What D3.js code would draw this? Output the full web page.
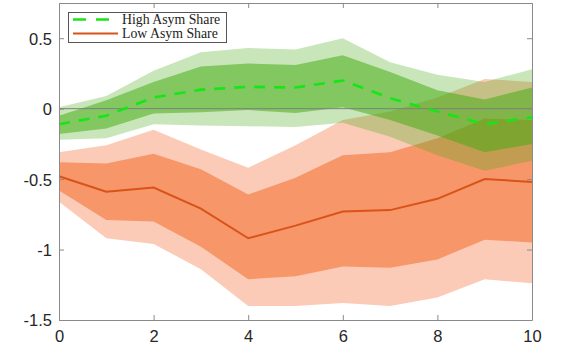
<html>
  <head>
    <title>irf</title>
    <script src="https://d3js.org/d3.v7.min.js"></script>
    <style>
      body { margin: 0; background: #fff; }
      text { font-family: "Liberation Sans", Arial, sans-serif; }
    </style>
  </head>

  <body>
    <div id='wrapper'>
      <script>
        // horizon and band values
        var horizon = [0, 1, 2, 3, 4, 5, 6, 7, 8, 9, 10];

        var highMean = [-0.11, -0.05, 0.08, 0.135, 0.155, 0.15, 0.2, 0.075, -0.02, -0.11, -0.06];
        var highUp90 = [0.01, 0.09, 0.27, 0.4, 0.43, 0.42, 0.5, 0.33, 0.24, 0.19, 0.28];
        var highUp68 = [-0.05, 0.06, 0.19, 0.3, 0.32, 0.31, 0.38, 0.26, 0.13, 0.065, 0.15];
        var highLo68 = [-0.18, -0.14, -0.035, -0.025, -0.01, -0.03, 0.01, -0.08, -0.19, -0.31, -0.25];
        var highLo90 = [-0.22, -0.21, -0.11, -0.12, -0.125, -0.13, -0.1, -0.2, -0.33, -0.44, -0.37];

        var lowMean = [-0.48, -0.59, -0.56, -0.71, -0.92, -0.83, -0.73, -0.72, -0.64, -0.5, -0.52];
        var lowUp90 = [-0.31, -0.26, -0.15, -0.29, -0.42, -0.26, -0.08, -0.02, 0.08, 0.21, 0.19];
        var lowUp68 = [-0.38, -0.39, -0.32, -0.43, -0.61, -0.49, -0.33, -0.31, -0.21, -0.07, -0.08];
        var lowLo68 = [-0.58, -0.79, -0.8, -0.98, -1.21, -1.19, -1.12, -1.13, -1.07, -0.93, -0.95];
        var lowLo90 = [-0.66, -0.92, -0.96, -1.14, -1.4, -1.4, -1.38, -1.4, -1.34, -1.21, -1.24];

        var xTicks = [0, 2, 4, 6, 8, 10];
        var yTicks = [-1.5, -1, -0.5, 0, 0.5];
        var legendNames = ["High Asym Share", "Low Asym Share"];

        // plot box
        var boxLeft = 59, boxRight = 532, boxTop = 3, boxBottom = 320;

        var svg = d3.select("#wrapper").append("svg")
                    .attr("width", 580)
                    .attr("height", 347);

        var xScale = d3.scaleLinear().domain([0, 10]).range([boxLeft, boxRight]);
        var yScale = d3.scaleLinear().domain([-1.5, 0.75]).range([boxBottom, boxTop]);

        function band(lo, hi) {
          return d3.area()
                   .x(function(d, i) { return xScale(horizon[i]); })
                   .y0(function(d, i) { return yScale(lo[i]); })
                   .y1(function(d, i) { return yScale(hi[i]); })(horizon);
        }
        function line(v) {
          return d3.line()
                   .x(function(d, i) { return xScale(horizon[i]); })
                   .y(function(d, i) { return yScale(v[i]); })(horizon);
        }

        // orange bands solid, green bands translucent on top
        var bands = svg.append("g");
        bands.append("path").attr("d", band(lowLo90, lowUp90)).attr("fill", "rgb(251,203,183)");
        bands.append("path").attr("d", band(lowLo68, lowUp68)).attr("fill", "rgb(247,150,105)");
        bands.append("path").attr("d", band(highLo90, highUp90))
             .attr("fill", "rgb(72,172,22)").attr("fill-opacity", 0.3);
        bands.append("path").attr("d", band(highLo68, highUp68))
             .attr("fill", "rgb(72,172,22)").attr("fill-opacity", 0.54);

        // zero line
        svg.append("line")
           .attr("x1", boxLeft).attr("x2", boxRight)
           .attr("y1", yScale(0)).attr("y2", yScale(0))
           .attr("stroke", "#7f7f7f").attr("stroke-width", 1);

        svg.append("path").attr("d", line(highMean))
           .attr("fill", "none").attr("stroke", "#16e616")
           .attr("stroke-width", 2.6).attr("stroke-dasharray", "11,9");
        svg.append("path").attr("d", line(lowMean))
           .attr("fill", "none").attr("stroke", "#d95319")
           .attr("stroke-width", 2);

        // axes, ticks inward on all four sides
        var axisColor = "#8a8a8a";
        var xAxis = svg.append("g")
          .attr("transform", "translate(0," + boxBottom + ")")
          .call(d3.axisBottom(xScale).tickValues(xTicks).tickSizeInner(-5).tickSizeOuter(0).tickPadding(10));
        var xTop = svg.append("g")
          .attr("transform", "translate(0," + boxTop + ")")
          .call(d3.axisTop(xScale).tickValues(xTicks).tickSizeInner(-5).tickSizeOuter(0).tickFormat(""));
        var yAxis = svg.append("g")
          .attr("transform", "translate(" + boxLeft + ",0)")
          .call(d3.axisLeft(yScale).tickValues(yTicks).tickSizeInner(-5).tickSizeOuter(0).tickPadding(7)
                  .tickFormat(function(d) { return String(d); }));
        var yRight = svg.append("g")
          .attr("transform", "translate(" + boxRight + ",0)")
          .call(d3.axisRight(yScale).tickValues(yTicks).tickSizeInner(-5).tickSizeOuter(0).tickFormat(""));

        [xAxis, xTop, yAxis, yRight].forEach(function(g) {
          g.select(".domain").attr("stroke", axisColor);
          g.selectAll(".tick line").attr("stroke", axisColor);
          g.selectAll(".tick text").attr("fill", "#262626").style("font-size", "16.5px")
           .style("font-family", "Liberation Sans, Arial, sans-serif");
        });
        yAxis.selectAll(".tick text").attr("dy", "0.36em");

        // legend
        var legend = svg.append("g");
        legend.append("rect")
              .attr("x", 68.5).attr("y", 12.5)
              .attr("width", 158).attr("height", 30)
              .attr("fill", "#fff").attr("stroke", "#555").attr("stroke-width", 1);
        legend.append("line")
              .attr("x1", 73).attr("x2", 109).attr("y1", 19.5).attr("y2", 19.5)
              .attr("stroke", "#16e616").attr("stroke-width", 2.6).attr("stroke-dasharray", "13,10");
        legend.append("line")
              .attr("x1", 73).attr("x2", 118).attr("y1", 33.5).attr("y2", 33.5)
              .attr("stroke", "#d95319").attr("stroke-width", 2);
        legend.selectAll("text.leg").data(legendNames).enter().append("text")
              .attr("class", "leg")
              .attr("x", 122)
              .attr("y", function(d, i) { return 23.8 + i * 14; })
              .style("font-family", "Liberation Serif, Times New Roman, serif")
              .style("font-size", "13.8px")
              .attr("fill", "#222")
              .text(function(d) { return d; });
      </script>
    </div>
  </body>
</html>
